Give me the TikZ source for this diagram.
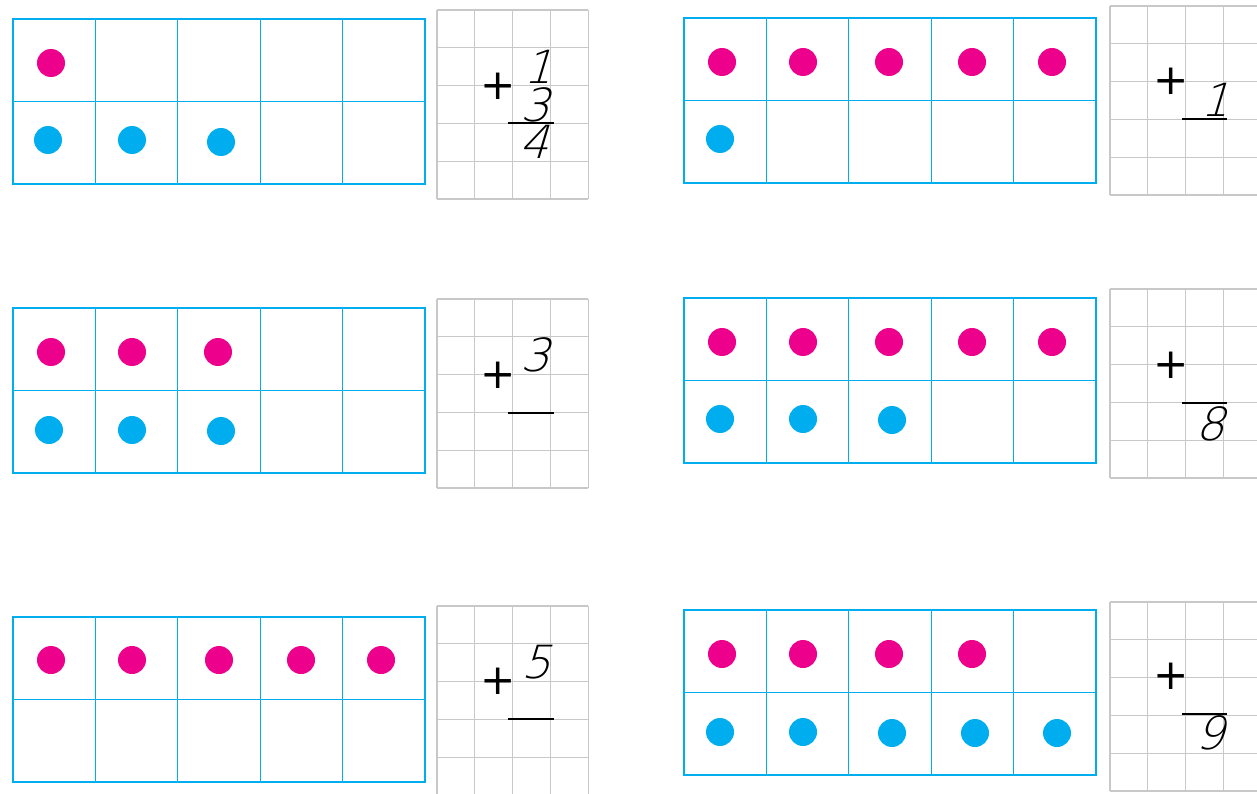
\documentclass[tikz,border=0pt]{standalone}
\usepackage{tikz}
\usetikzlibrary{positioning}
\usepackage{xcolor}
\usepackage{fontspec}
\newfontfamily\handfont{DejaVu Sans ExtraLight}[FakeSlant=0.3]
\newfontfamily\signfont{DejaVu Sans}
\definecolor{dotpink}{HTML}{EC008C}
\definecolor{dotblue}{HTML}{00AEEF}
\definecolor{gridgray}{HTML}{C8C8C8}

\begin{document}
\begin{tikzpicture}[
        x=0.02cm, y=-0.02cm,
        cellline/.style={draw=dotblue, line width=0.75pt},
        gridline/.style={draw=gridgray, line width=0.7pt},
        counter/.style={circle, inner sep=0pt, minimum size=0.56cm},
        pinkdot/.style={counter, fill=dotpink},
        bluedot/.style={counter, fill=dotblue},
        plus/.style={font=\signfont\fontsize{24}{24}\selectfont, inner sep=0pt},
        digit/.style={font=\handfont\fontsize{26}{26}\selectfont, inner sep=0pt},
        sumline/.style={draw=black, line width=0.85pt}
    ]
        \path[use as bounding box, clip] (0,0) rectangle (1257,794);

        % Ten-frames
        \foreach \fx/\fy in {13/19, 13/308, 13/617, 684/18, 684/298, 684/610} {
            \begin{scope}[shift={(\fx,\fy)}]
                \draw[cellline] (0,0) rectangle (412,165) (0,82.5) -- (412,82.5);
                \foreach \c in {1,...,4}
                    \draw[cellline] (82.4*\c,0) -- (82.4*\c,165);
            \end{scope}
        }

        % Squared paper
        \foreach \gx/\gy in {437/10, 437/299, 437/606, 1110/6, 1110/289, 1110/602} {
            \begin{scope}[shift={(\gx,\gy)}]
                \foreach \c in {0,...,4}
                    \draw[gridline] (37.8*\c,0) -- (37.8*\c,189);
                \foreach \r in {0,...,5}
                    \draw[gridline] (0,37.8*\r) -- (151.2,37.8*\r);
            \end{scope}
        }

        % Row 1, left: 1 + 3 = 4
        \node[pinkdot] (a1) at (51,63) {};
        \node[bluedot] (a2) at (48,140) {};
        \node[bluedot] (a3) at (132,140) {};
        \node[bluedot] (a4) at (221,142) {};
        \node[plus] (aplus) at (498,86) {+};
        \node[digit] (atop) at (538,67) {1};
        \node[digit] (amid) at (535,105) {3};
        \node[digit] (asum) at (534,142) {4};
        \draw[sumline] (508,123) -- (554,123);

        % Row 2, left: 3 + ?
        \node[pinkdot] (b1) at (51,352) {};
        \node[pinkdot] (b2) at (132,352) {};
        \node[pinkdot] (b3) at (218,352) {};
        \node[bluedot] (b4) at (49,430) {};
        \node[bluedot] (b5) at (132,430) {};
        \node[bluedot] (b6) at (221,431) {};
        \node[plus] (bplus) at (498,375) {+};
        \node[digit] (btop) at (535,355) {3};
        \draw[sumline] (508,413) -- (554,413);

        % Row 3, left: 5 + ?
        \node[pinkdot] (c1) at (51,660) {};
        \node[pinkdot] (c2) at (132,660) {};
        \node[pinkdot] (c3) at (219,660) {};
        \node[pinkdot] (c4) at (301,660) {};
        \node[pinkdot] (c5) at (381,660) {};
        \node[plus] (cplus) at (498,681) {+};
        \node[digit] (ctop) at (536,662) {5};
        \draw[sumline] (508,719) -- (554,719);

        % Row 1, right: ? + 1
        \node[pinkdot] (d1) at (722,62) {};
        \node[pinkdot] (d2) at (803,62) {};
        \node[pinkdot] (d3) at (889,62) {};
        \node[pinkdot] (d4) at (972,62) {};
        \node[pinkdot] (d5) at (1052,62) {};
        \node[bluedot] (d6) at (720,139) {};
        \node[plus] (dplus) at (1171,81) {+};
        \node[digit] (dmid) at (1215,100) {1};
        \draw[sumline] (1182,119) -- (1227,119);

        % Row 2, right: sum 8
        \node[pinkdot] (e1) at (722,342) {};
        \node[pinkdot] (e2) at (803,342) {};
        \node[pinkdot] (e3) at (889,342) {};
        \node[pinkdot] (e4) at (972,342) {};
        \node[pinkdot] (e5) at (1052,342) {};
        \node[bluedot] (e6) at (720,419) {};
        \node[bluedot] (e7) at (803,419) {};
        \node[bluedot] (e8) at (892,420) {};
        \node[plus] (eplus) at (1171,365) {+};
        \node[digit] (esum) at (1210,424) {8};
        \draw[sumline] (1182,403) -- (1227,403);

        % Row 3, right: sum 9
        \node[pinkdot] (f1) at (722,654) {};
        \node[pinkdot] (f2) at (803,654) {};
        \node[pinkdot] (f3) at (889,654) {};
        \node[pinkdot] (f4) at (972,654) {};
        \node[bluedot] (f5) at (720,732) {};
        \node[bluedot] (f6) at (803,732) {};
        \node[bluedot] (f7) at (892,733) {};
        \node[bluedot] (f8) at (975,733) {};
        \node[bluedot] (f9) at (1057,733) {};
        \node[plus] (fplus) at (1171,676) {+};
        \node[digit] (fsum) at (1210,733) {9};
        \draw[sumline] (1182,714) -- (1227,714);
    \end{tikzpicture}
\end{document}
